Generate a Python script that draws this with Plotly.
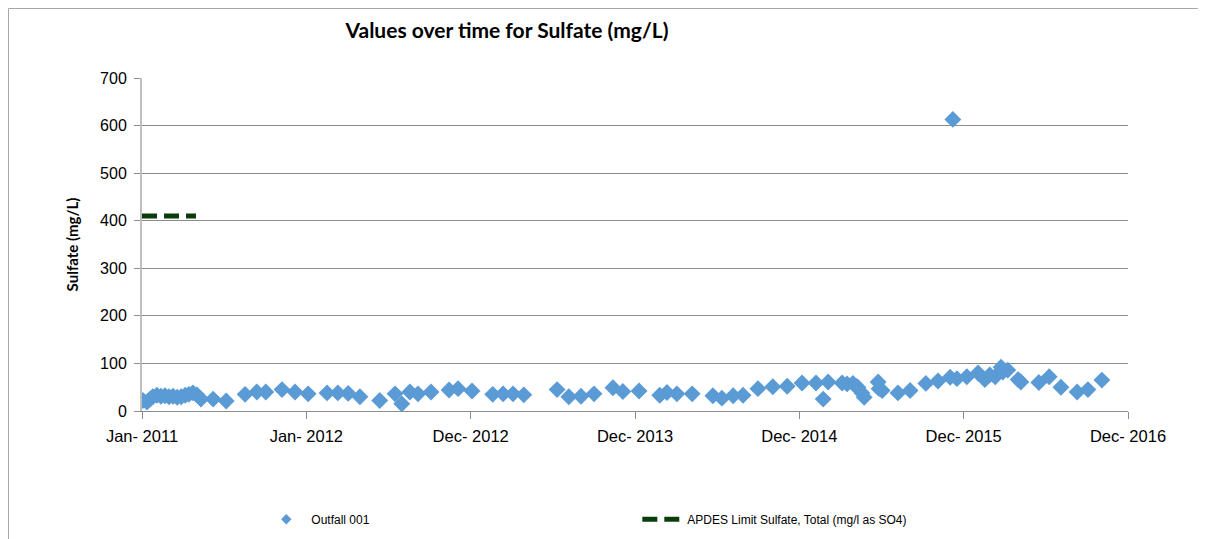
import plotly.graph_objects as go
import pandas as pd

# sample dates and sulfate results (mg/L) for Outfall 001
sample_dates = [
    "2011-01-03", "2011-01-12", "2011-01-19", "2011-01-25", "2011-02-03", "2011-02-12",
    "2011-02-21", "2011-03-02", "2011-03-11", "2011-03-20", "2011-03-29", "2011-04-07",
    "2011-04-15", "2011-04-24", "2011-05-03", "2011-05-12", "2011-06-08", "2011-07-07",
    "2011-08-18", "2011-09-13", "2011-10-03", "2011-11-08", "2011-12-07", "2012-01-05",
    "2012-02-16", "2012-03-11", "2012-04-03", "2012-04-29", "2012-06-12", "2012-07-16",
    "2012-07-31", "2012-08-18", "2012-09-05", "2012-10-04", "2012-11-13", "2012-12-03",
    "2013-01-03", "2013-02-18", "2013-03-13", "2013-04-04", "2013-04-28", "2013-07-11",
    "2013-08-06", "2013-09-02", "2013-10-01", "2013-11-12", "2013-12-04", "2014-01-09",
    "2014-02-24", "2014-03-12", "2014-04-03", "2014-05-07", "2014-06-22", "2014-07-12",
    "2014-08-06", "2014-08-28", "2014-09-30", "2014-11-02", "2014-12-04", "2015-01-06",
    "2015-02-06", "2015-02-22", "2015-03-05", "2015-04-05", "2015-04-16", "2015-04-29",
    "2015-05-06", "2015-05-10", "2015-05-19", "2015-05-24", "2015-06-24", "2015-06-26",
    "2015-07-03", "2015-08-07", "2015-09-03", "2015-10-08", "2015-11-04", "2015-12-01",
    "2015-12-07", "2015-12-16", "2016-01-07", "2016-02-01", "2016-02-16", "2016-02-27",
    "2016-03-10", "2016-03-23", "2016-03-27", "2016-04-07", "2016-04-30", "2016-05-06",
    "2016-06-15", "2016-07-08", "2016-08-03", "2016-09-08", "2016-10-02", "2016-11-02",
]
sulfate = [
    22, 19, 25, 30, 33, 31,
    32, 30, 31, 29, 30, 33,
    35, 38, 34, 25, 25, 21,
    35, 40, 40, 45, 40, 36,
    38, 38, 37, 30, 22, 36,
    15, 40, 36, 40, 44, 47,
    42, 35, 36, 36, 34, 45,
    30, 31, 36, 49, 41, 42,
    33, 39, 36, 36, 32, 27,
    32, 33, 47, 51, 52, 59,
    59, 25, 61, 59, 57, 58,
    52, 50, 38, 29, 61, 47,
    43, 38, 43, 58, 63, 71,
    613, 68, 72, 80, 66, 76,
    72, 92, 82, 86, 66, 61,
    60, 72, 50, 40, 45, 65,
]

# permit limit
limit_dates = ["2011-01-01", "2011-05-01"]
limit_values = [410, 410]

tick_dates = ["2011-01-01", "2012-01-01", "2012-12-31", "2013-12-31",
              "2014-12-31", "2015-12-31", "2016-12-30"]
tick_labels = ["Jan- 2011", "Jan- 2012", "Dec- 2012", "Dec- 2013",
               "Dec- 2014", "Dec- 2015", "Dec- 2016"]

blue = "#5B9BD5"
green = "#0B3D0B"

fig = go.Figure()

fig.add_trace(go.Scatter(
    x=pd.to_datetime(sample_dates), y=sulfate,
    mode="markers",
    showlegend=False,
    marker=dict(symbol="diamond", size=13, color=blue),
))
# small legend entry like the Excel one
fig.add_trace(go.Scatter(
    x=[None], y=[None], mode="markers", name="Outfall 001",
    marker=dict(symbol="diamond", size=8, color=blue),
))

fig.add_trace(go.Scatter(
    x=pd.to_datetime(limit_dates), y=limit_values,
    mode="lines",
    name="APDES Limit Sulfate, Total (mg/l as SO4)",
    line=dict(color=green, width=5, dash="15px,7px"),
))

grid = "#8C8C8C"
fig.update_layout(
    width=1198, height=531,
    margin=dict(l=134, r=78, t=70, b=128, autoexpand=False),
    paper_bgcolor="white", plot_bgcolor="white",
    font=dict(family="Liberation Sans, Arial", size=16, color="black"),
    title=dict(text="<b>Values over time for Sulfate (mg/L)</b>",
               x=0.4165, xanchor="center", y=0.957, yanchor="middle",
               font=dict(family="Lato, Carlito, sans-serif", size=21)),
    showlegend=True,
    legend=dict(orientation="h", x=0.121, xanchor="left", y=-0.325, yanchor="middle",
                font=dict(size=12), entrywidth=321, entrywidthmode="pixels",
                itemwidth=40),
    shapes=[
        dict(type="line", xref="paper", yref="paper",
             x0=-0.1354, x1=-0.1354, y0=1.2087, y1=-0.4,
             line=dict(color="#A6A6A6", width=1)),
        dict(type="line", xref="paper", yref="paper",
             x0=-0.1354, x1=1.076, y0=1.2087, y1=1.2087,
             line=dict(color="#A6A6A6", width=1)),
    ],
)

fig.update_xaxes(
    type="date",
    range=["2011-01-01", "2016-12-30"],
    tickvals=pd.to_datetime(tick_dates), ticktext=tick_labels,
    showgrid=False, showline=True, linecolor=grid, linewidth=1,
    ticks="outside", ticklen=7, tickcolor=grid,
    ticklabelstandoff=3, tickfont=dict(size=16.5),
    zeroline=False, automargin=False,
)
fig.update_yaxes(
    range=[0, 700], dtick=100,
    showgrid=True, gridcolor=grid, gridwidth=1,
    showline=True, linecolor="#BFBFBF", linewidth=2,
    ticks="outside", ticklen=6, tickcolor=grid,
    ticklabelstandoff=4,
    zeroline=False, automargin=False,
    title=dict(text="<b>Sulfate (mg/L)</b>", standoff=18,
               font=dict(family="Lato, Carlito, sans-serif", size=15)),
)

fig.write_html("out.html")
